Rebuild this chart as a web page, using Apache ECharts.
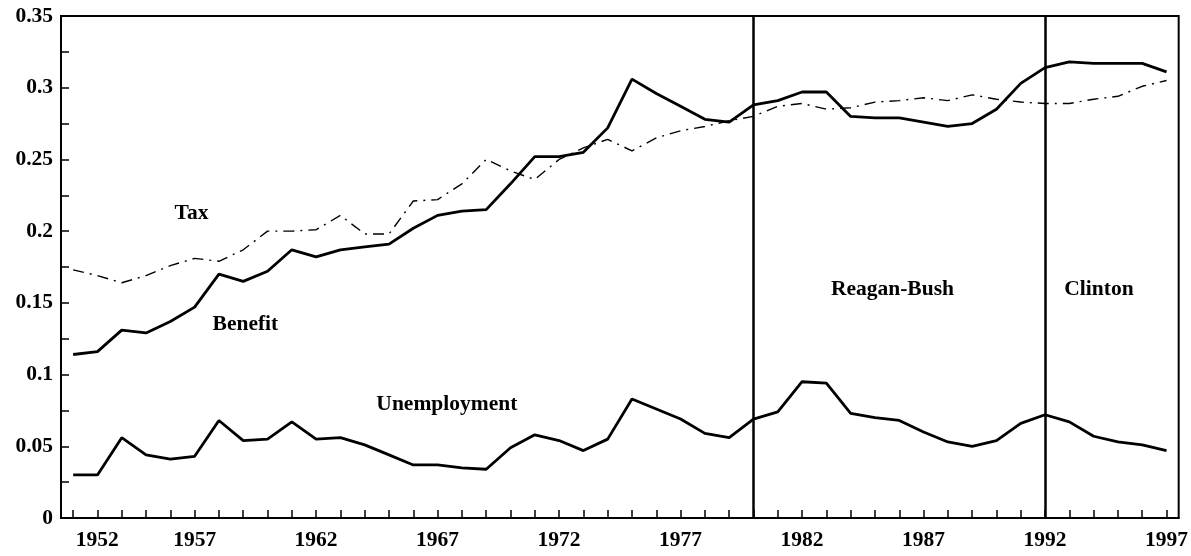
<!DOCTYPE html>
<html>
<head>
<meta charset="utf-8">
<script src="https://cdn.jsdelivr.net/npm/echarts@6/dist/echarts.min.js"></script>
<style>
html,body{margin:0;padding:0;background:#fff;}
#chart{width:1191px;height:556px;}
</style>
</head>
<body>
<div id="chart"></div>
<script>
const years = [];
for (let y = 1952; y <= 1997; y++) years.push(String(y));

const benefit = [0.114, 0.116, 0.131, 0.129, 0.137, 0.147, 0.170, 0.165, 0.172, 0.187,
                 0.182, 0.187, 0.189, 0.191, 0.202, 0.211, 0.214, 0.215, 0.233, 0.252,
                 0.252, 0.255, 0.272, 0.306, 0.296, 0.287, 0.278, 0.276, 0.288, 0.291,
                 0.297, 0.297, 0.280, 0.279, 0.279, 0.276, 0.273, 0.275, 0.285, 0.303,
                 0.314, 0.318, 0.317, 0.317, 0.317, 0.311];

const tax = [0.173, 0.169, 0.164, 0.169, 0.176, 0.181, 0.179, 0.187, 0.200, 0.200,
             0.201, 0.211, 0.198, 0.198, 0.221, 0.222, 0.233, 0.250, 0.242, 0.236,
             0.250, 0.258, 0.264, 0.256, 0.265, 0.270, 0.273, 0.277, 0.280, 0.287,
             0.289, 0.285, 0.286, 0.290, 0.291, 0.293, 0.291, 0.295, 0.292, 0.290,
             0.289, 0.289, 0.292, 0.294, 0.301, 0.305];

const unemployment = [0.030, 0.030, 0.056, 0.044, 0.041, 0.043, 0.068, 0.054, 0.055, 0.067,
                      0.055, 0.056, 0.051, 0.044, 0.037, 0.037, 0.035, 0.034, 0.049, 0.058,
                      0.054, 0.047, 0.055, 0.083, 0.076, 0.069, 0.059, 0.056, 0.069, 0.074,
                      0.095, 0.094, 0.073, 0.070, 0.068, 0.060, 0.053, 0.050, 0.054, 0.066,
                      0.072, 0.067, 0.057, 0.053, 0.051, 0.047];

const tickLabels = ['1952', '1957', '1962', '1967', '1972', '1977', '1982', '1987', '1992', '1997'];
const eraLines = ['1980', '1992'];

// annotation texts: [text, category position (fractional index), value]
const annotationTexts = ['Tax', 'Benefit', 'Unemployment', 'Reagan-Bush', 'Clinton'];
const annotationX = [4.87, 7.09, 15.38, 33.72, 42.22];
const annotationY = [0.212, 0.1347, 0.079, 0.159, 0.159];

const FONT = '"Liberation Serif", "Times New Roman", serif';
const FS = 21.5;

const chart = echarts.init(document.getElementById('chart'), null, {renderer: 'canvas'});

const option = {
  animation: false,
  backgroundColor: '#fff',
  grid: {
    left: 61, right: 10, top: 16, bottom: 38,
    show: true, borderColor: '#000', borderWidth: 2, backgroundColor: 'transparent'
  },
  xAxis: {
    type: 'category',
    data: years,
    boundaryGap: true,
    axisLine: {show: true, lineStyle: {color: '#000', width: 2}},
    axisTick: {show: true, inside: true, alignWithLabel: true, interval: 0, length: 8,
               lineStyle: {color: '#000', width: 1.5}},
    axisLabel: {
      interval: function (index, value) { return tickLabels.indexOf(value) >= 0; },
      formatter: function (value, index) {
        return index === 0 ? '{first|' + value + '}' : value;
      },
      rich: {
        first: {padding: [0, 0, 0, 48], fontFamily: FONT, fontWeight: 'bold', fontSize: FS, color: '#000'}
      },
      color: '#000', fontFamily: FONT, fontWeight: 'bold', fontSize: FS, margin: 11
    },
    splitLine: {show: false}
  },
  yAxis: {
    type: 'value',
    min: 0, max: 0.35, interval: 0.05,
    axisLine: {show: true, lineStyle: {color: '#000', width: 2}},
    axisTick: {show: true, inside: true, length: 8, lineStyle: {color: '#000', width: 1.5}},
    minorTick: {show: true, splitNumber: 2, length: 8, lineStyle: {color: '#000', width: 1.5}},
    axisLabel: {color: '#000', fontFamily: FONT, fontWeight: 'bold', fontSize: FS, margin: 8},
    splitLine: {show: false}
  },
  series: [
    {
      name: 'Benefit', type: 'line', data: benefit, symbol: 'none',
      lineStyle: {color: '#000', width: 2.8},
      markLine: {
        silent: true, symbol: ['none', 'none'],
        label: {show: false},
        lineStyle: {color: '#000', width: 2.5, type: 'solid'},
        data: eraLines.map(y => ({xAxis: y}))
      }
    },
    {
      name: 'Tax', type: 'line', data: tax, symbol: 'none',
      lineStyle: {color: '#000', width: 1.4, type: [11, 6, 2, 6]}
    },
    {
      name: 'Unemployment', type: 'line', data: unemployment, symbol: 'none',
      lineStyle: {color: '#000', width: 2.8}
    }
  ]
};

chart.setOption(option);

function toPixel(xf, v) {
  const i0 = Math.floor(xf);
  const f = xf - i0;
  const p0 = chart.convertToPixel({gridIndex: 0}, [i0, v]);
  const p1 = chart.convertToPixel({gridIndex: 0}, [i0 + 1, v]);
  return [p0[0] + f * (p1[0] - p0[0]), p0[1]];
}

const graphics = annotationTexts.map((t, k) => {
  const p = toPixel(annotationX[k], annotationY[k]);
  return {
    type: 'text', x: p[0], y: p[1], silent: true,
    style: {
      text: t, fill: '#000',
      font: 'bold ' + FS + 'px ' + FONT,
      textAlign: 'center', textVerticalAlign: 'middle'
    }
  };
});
chart.setOption({graphic: graphics});
</script>
</body>
</html>
